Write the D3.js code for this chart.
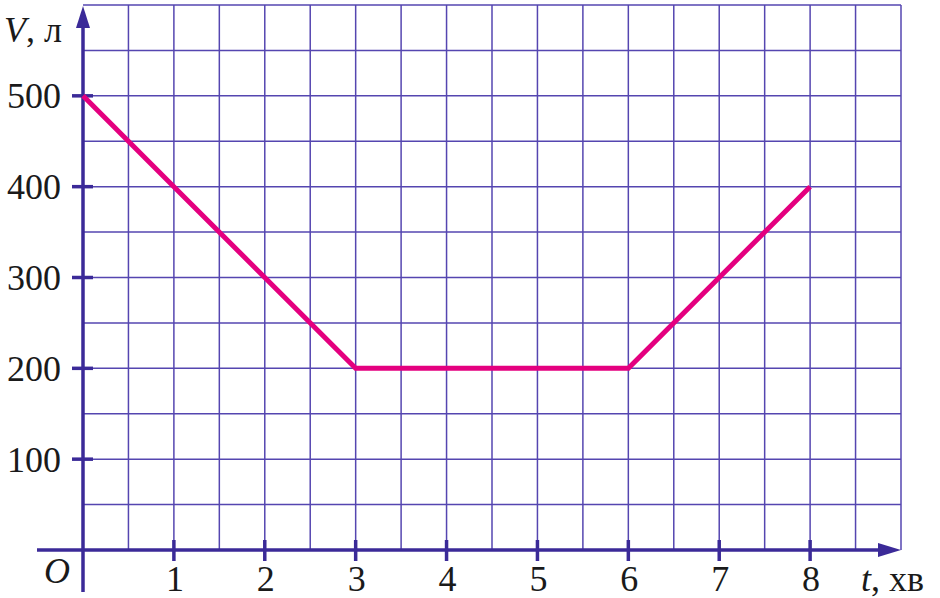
<!DOCTYPE html>
<html><head><meta charset="utf-8">
<script src="https://cdn.jsdelivr.net/npm/d3@7"></script>
<style>body{margin:0;background:#fff}svg{display:block}
text{font-family:"Liberation Serif","Times New Roman",Tinos,"DejaVu Serif",serif;}</style>
</head><body>
<script>
const times = [0, 1, 2, 3, 4, 5, 6, 7, 8];
const volumes = [500, 400, 300, 200, 200, 200, 200, 300, 400];
const xTicks = [1, 2, 3, 4, 5, 6, 7, 8];
const yTicks = [100, 200, 300, 400, 500];
const xLabel = "хв";
const yLabel = "л";

const W = 940, H = 598;
const svg = d3.select("body").append("svg").attr("width", W).attr("height", H);
const x = d3.scaleLinear().domain([0, 9]).range([83, 901]);
const y = d3.scaleLinear().domain([0, 600]).range([550, 5]);
const gridC = "#5546b0", axisC = "#3b2a98", pink = "#e4007f";
const fs = 36;

// grid
const gx = d3.range(0.5, 9.01, 0.5);
const gy = d3.range(50, 600.1, 50);
svg.append("g").selectAll("line").data(gx).join("line")
  .attr("x1", d => x(d)).attr("x2", d => x(d)).attr("y1", y(600)).attr("y2", y(0))
  .attr("stroke", gridC).attr("stroke-width", 1.5);
svg.append("g").selectAll("line").data(gy).join("line")
  .attr("x1", x(0)).attr("x2", x(9)).attr("y1", d => y(d)).attr("y2", d => y(d))
  .attr("stroke", gridC).attr("stroke-width", 1.5);

// axes
svg.append("line").attr("x1", 37).attr("x2", 880).attr("y1", y(0)).attr("y2", y(0))
  .attr("stroke", axisC).attr("stroke-width", 3.5);
svg.append("line").attr("x1", x(0)).attr("x2", x(0)).attr("y1", 592).attr("y2", 26)
  .attr("stroke", axisC).attr("stroke-width", 3.5);
svg.append("path").attr("d", `M${x(9)},${y(0)} L${x(9)-23},${y(0)-7} L${x(9)-23},${y(0)+7} Z`).attr("fill", axisC);
svg.append("path").attr("d", `M${x(0)},${y(600)+1} L${x(0)-7},${y(600)+23} L${x(0)+7},${y(600)+23} Z`).attr("fill", axisC);

// ticks
svg.append("g").selectAll("line").data(xTicks).join("line")
  .attr("x1", d => x(d)).attr("x2", d => x(d)).attr("y1", y(0) - 10).attr("y2", y(0) + 11)
  .attr("stroke", axisC).attr("stroke-width", 3.5);
svg.append("g").selectAll("line").data(yTicks).join("line")
  .attr("x1", x(0) - 11).attr("x2", x(0) + 10).attr("y1", d => y(d)).attr("y2", d => y(d))
  .attr("stroke", axisC).attr("stroke-width", 3.5);

// labels
svg.append("g").selectAll("text").data(xTicks).join("text")
  .attr("x", d => x(d) + 1).attr("y", 591).attr("text-anchor", "middle")
  .attr("font-size", fs).attr("fill", "#1a1a1a").text(d => d);
svg.append("g").selectAll("text").data(yTicks).join("text")
  .attr("x", 61).attr("y", d => y(d) + 12.5).attr("text-anchor", "end")
  .attr("font-size", fs).attr("fill", "#1a1a1a").text(d => d);
svg.append("text").attr("x", 44).attr("y", 583).attr("font-size", fs)
  .attr("font-style", "italic").attr("fill", "#1a1a1a").text("O");
const vt = svg.append("text").attr("x", 4).attr("y", 42).attr("font-size", fs).attr("fill", "#1a1a1a");
vt.append("tspan").attr("font-style", "italic").text("V");
vt.append("tspan").text(", " + yLabel);
const tt = svg.append("text").attr("x", 861).attr("y", 591).attr("font-size", fs).attr("fill", "#1a1a1a");
tt.append("tspan").attr("font-style", "italic").text("t");
tt.append("tspan").text(", " + xLabel);

// data line
const line = d3.line().x((d, i) => x(times[i])).y(d => y(d));
svg.append("path").datum(volumes).attr("d", line).attr("fill", "none")
  .attr("stroke", pink).attr("stroke-width", 5).attr("stroke-linejoin", "miter");
</script>
</body></html>
